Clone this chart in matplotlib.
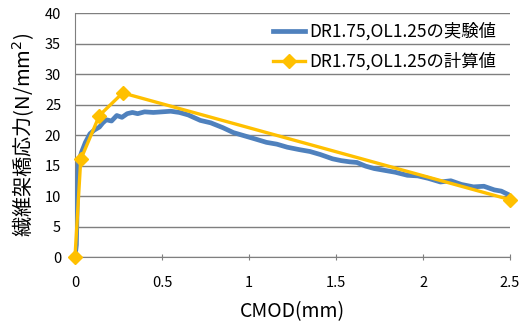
import matplotlib
matplotlib.use("Agg")
import matplotlib.pyplot as plt

plt.rcParams['font.family'] = ['Noto Sans CJK JP', 'DejaVu Sans']

exp_x = [0, 0.008, 0.012, 0.016, 0.02, 0.038, 0.06, 0.086, 0.11, 0.14, 0.16, 0.18,
         0.21, 0.24, 0.27, 0.3, 0.33, 0.36, 0.4, 0.45, 0.5, 0.55, 0.6, 0.65, 0.72,
         0.78, 0.85, 0.91, 0.97, 1.03, 1.1, 1.16, 1.22, 1.29, 1.35, 1.41, 1.48,
         1.53, 1.58, 1.62, 1.67, 1.72, 1.78, 1.84, 1.91, 1.97, 2.03, 2.1, 2.16,
         2.22, 2.29, 2.35, 2.41, 2.45, 2.5]
exp_y = [0, 2, 8, 13, 15.5, 17.2, 18.8, 20.2, 20.8, 21.3, 22.0, 22.5,
         22.3, 23.2, 22.9, 23.5, 23.7, 23.5, 23.8, 23.7, 23.8, 23.9, 23.7, 23.3, 22.4,
         22.0, 21.2, 20.4, 19.9, 19.4, 18.8, 18.5, 18.0, 17.6, 17.3, 16.8, 16.1,
         15.8, 15.6, 15.5, 14.9, 14.5, 14.2, 13.9, 13.4, 13.3, 12.9, 12.3, 12.5,
         11.9, 11.5, 11.6, 11.0, 10.8, 10.1]

# calculated values
calc_x = [0, 0.033, 0.14, 0.274, 2.5]
calc_y = [0, 16, 23.2, 26.9, 9.4]

labels = ['DR1.75,OL1.25の実験値', 'DR1.75,OL1.25の計算値']

fig = plt.figure(figsize=(5.19, 3.29), dpi=100)
ax = fig.add_axes([0.1445, 0.2188, 0.8382, 0.7416])

ax.plot(exp_x, exp_y, color='#4F81BD', lw=3.4, label=labels[0], zorder=3)
ax.plot(calc_x, calc_y, color='#FFC000', lw=2.4, marker='D', ms=7,
        label=labels[1], zorder=4, clip_on=False)

ax.set_xlim(0, 2.5)
ax.set_ylim(0, 40)
ax.set_xticks([0, 0.5, 1, 1.5, 2, 2.5])
ax.set_xticklabels(['0', '0.5', '1', '1.5', '2', '2.5'])
ax.set_yticks(range(0, 41, 5))
ax.yaxis.grid(True, color='#7f7f7f', lw=1)
ax.set_axisbelow(True)
for s in ['top', 'right']:
    ax.spines[s].set_visible(False)
ax.spines['left'].set_color('#7f7f7f')
ax.spines['bottom'].set_color('#7f7f7f')
ax.tick_params(axis='y', length=0, labelsize=10.5, pad=10)
ax.tick_params(axis='x', length=4, direction='inout', color='#7f7f7f',
               labelsize=10.5, pad=12)

ax.set_xlabel('CMOD(mm)', fontsize=14, labelpad=8)
ax.set_ylabel('繊維架橋応力(N/mm$^2$)', fontsize=14.5, labelpad=6)

leg = ax.legend(loc='upper left', bbox_to_anchor=(0.44, 0.99), frameon=False,
                fontsize=12.5, handlelength=1.8, labelspacing=0.68,
                borderaxespad=0.0, handletextpad=0.25)

fig.savefig('out.png', dpi=100)
